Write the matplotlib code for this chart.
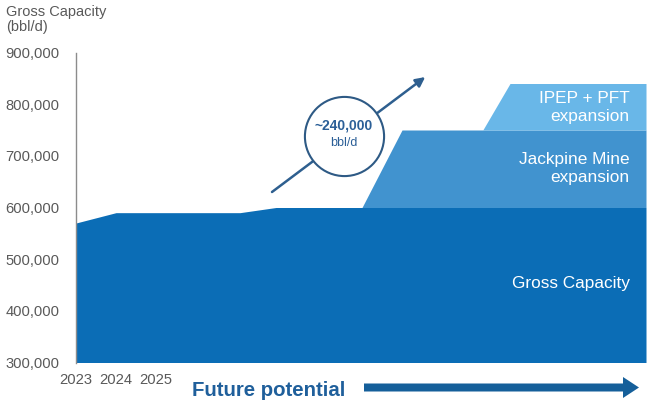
import matplotlib
matplotlib.use("Agg")
import matplotlib.pyplot as plt
from matplotlib.patches import FancyArrow

plt.rcParams['font.family'] = ['Liberation Sans', 'DejaVu Sans']

# ---- data (schematic timeline in years) ----
base_x = [2023, 2024, 2027.1, 2028.0, 2037.25]
base_y = [570000, 590000, 590000, 600000, 600000]

jackpine_x = [2030.15, 2031.15, 2037.25]
jackpine_lo = [600000, 600000, 600000]
jackpine_hi = [600000, 750000, 750000]

ipep_x = [2033.17, 2033.85, 2037.25]
ipep_lo = [750000, 750000, 750000]
ipep_hi = [750000, 840000, 840000]

xtick_vals = [2023, 2024, 2025]
xtick_labels = ["2023", "2024", "2025"]
ytick_vals = [300000, 400000, 500000, 600000, 700000, 800000, 900000]

arrow_start = (2027.9, 630000)
arrow_end = (2031.73, 852500)
circle_center = (2029.7, 739000)

label_ipep = ("IPEP + PFT\nexpansion", 794000)
label_jack = ("Jackpine Mine\nexpansion", 675000)
label_base = ("Gross Capacity", 452500)

c_base = "#0B6DB6"
c_jack = "#4193CF"
c_ipep = "#69B7E8"
c_grey = "#595959"
c_dark = "#1F5F9B"

fig = plt.figure(figsize=(6.5, 4.05), dpi=100)
ax = fig.add_axes([76/650, (405-362.5)/405, (646-76)/650, (362.5-52.5)/405])

ax.fill_between(base_x, 300000, base_y, color=c_base, lw=0, zorder=2)
ax.fill_between(jackpine_x, jackpine_lo, jackpine_hi, color=c_jack, lw=0, zorder=2)
ax.fill_between(ipep_x, ipep_lo, ipep_hi, color=c_ipep, lw=0, zorder=2)

ax.set_xlim(2023, 2037.25)
ax.set_ylim(300000, 900000)
ax.set_xticks(xtick_vals)
ax.set_xticklabels(xtick_labels)
ax.set_yticks(ytick_vals)
ax.set_yticklabels([f"{v:,}" for v in ytick_vals])
ax.tick_params(axis='y', length=0, pad=12, labelsize=10.6, labelcolor=c_grey)
ax.tick_params(axis='x', length=0, pad=7.5, labelsize=10.6, labelcolor=c_grey)
for s in ['top', 'right', 'bottom']:
    ax.spines[s].set_visible(False)
ax.spines['left'].set_color('#8C8C8C')
ax.spines['left'].set_linewidth(1.0)

# growth arrow with circle
ax.annotate("", xy=arrow_end, xytext=arrow_start,
            arrowprops=dict(arrowstyle='-|>', color='#2E5F8F', lw=1.8,
                            mutation_scale=14, shrinkA=0, shrinkB=0), zorder=3)
ax.plot([circle_center[0]], [circle_center[1]], 'o', ms=57, mfc='white',
        mec='#2E5A85', mew=1.5, zorder=4)
ax.annotate("~240,000", xy=circle_center, xytext=(0, 7.5), textcoords='offset points',
            ha='center', va='center', fontsize=10, fontweight='bold', color='#2B5F97', zorder=5)
ax.annotate("bbl/d", xy=circle_center, xytext=(0, -5.5), textcoords='offset points',
            ha='center', va='center', fontsize=9, color='#2B5F97', zorder=5)

# area labels
tr = ax.get_yaxis_transform()
for txt, yv in (label_ipep, label_jack, label_base):
    ax.text(0.9715, yv, txt, transform=tr, ha='right', va='center', color='white',
            fontsize=12.4, linespacing=1.28, zorder=5)

# title
fig.text(6/650, 1 - 5/405, "Gross Capacity\n(bbl/d)", ha='left', va='top',
         fontsize=10.5, color=c_grey, linespacing=1.1)

# bottom "Future potential" + arrow
fig.text(192/650, (405-396)/405, "Future potential", ha='left', va='baseline',
         fontsize=14.7, fontweight='bold', color=c_dark)
ov = fig.add_axes([0, 0, 1, 1], zorder=-1)
ov.set_xlim(0, 650)
ov.set_ylim(405, 0)
ov.axis('off')
ov.add_patch(FancyArrow(364, 387.5, 275, 0, width=8, head_width=21, head_length=16,
                        length_includes_head=True, color='#155F9A', lw=0))

fig.savefig("out.png", dpi=100)
